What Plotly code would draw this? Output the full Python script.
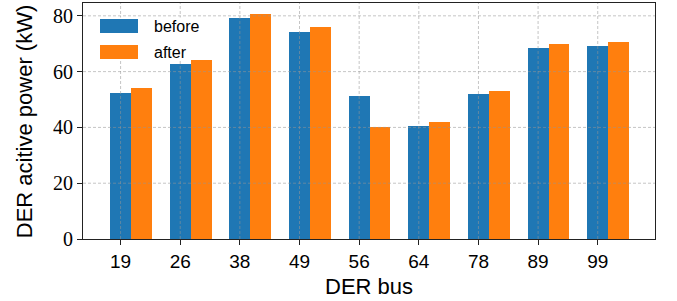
import plotly.graph_objects as go

buses = ["19", "26", "38", "49", "56", "64", "78", "89", "99"]
before = [52.4, 62.8, 79.3, 74.3, 51.4, 40.6, 52.1, 68.5, 69.2]
after = [54.2, 64.2, 80.7, 76.1, 40.0, 42.1, 53.1, 69.9, 70.6]
y_ticks = [0, 20, 40, 60, 80]
series_names = ["before", "after"]

BLUE = "#1f77b4"
ORANGE = "#ff7f0e"
idx = list(range(len(buses)))
W = 0.35

fig = go.Figure()
fig.add_trace(go.Bar(x=idx, y=before, width=W, offset=-W / 2, marker=dict(color=BLUE, line=dict(width=0)),
                     name=series_names[0], showlegend=False))
fig.add_trace(go.Bar(x=idx, y=after, width=W, offset=W / 2, marker=dict(color=ORANGE, line=dict(width=0)),
                     name=series_names[1], showlegend=False))

# plot area geometry in pixels
L, R, T, B = 83, 655, 3, 239.5
PW, PH = R - L, B - T


def px(x):
    return (x - L) / PW


def py(y):
    return (B - y) / PH


grid = dict(color="rgba(150,150,150,0.55)", width=1, dash="3px,2px")
shapes = []
for i in idx:
    shapes.append(dict(type="line", xref="x", yref="paper", x0=i, x1=i, y0=0, y1=1, line=grid, layer="above"))
for v in y_ticks[1:]:
    shapes.append(dict(type="line", xref="paper", yref="y", x0=0, x1=1, y0=v, y1=v, line=grid, layer="above"))

# legend box and patches
shapes.append(dict(type="rect", xref="paper", yref="paper", x0=px(93), x1=px(212), y0=py(59.5), y1=py(17.5),
                   fillcolor="white", line=dict(width=0), layer="above"))
shapes.append(dict(type="rect", xref="paper", yref="paper", x0=px(100), x1=px(138), y0=py(33), y1=py(19),
                   fillcolor=BLUE, line=dict(width=0), layer="above"))
shapes.append(dict(type="rect", xref="paper", yref="paper", x0=px(100), x1=px(138), y0=py(59), y1=py(45),
                   fillcolor=ORANGE, line=dict(width=0), layer="above"))

sans = "Liberation Sans"
serif = "Liberation Serif"
annotations = [
    dict(text=series_names[0], xref="paper", yref="paper", x=px(152), y=py(27), xanchor="left", yanchor="middle",
         showarrow=False, font=dict(family=sans, size=16, color="black")),
    dict(text=series_names[1], xref="paper", yref="paper", x=px(152), y=py(52.5), xanchor="left", yanchor="middle",
         showarrow=False, font=dict(family=sans, size=16, color="black")),
    dict(text="DER bus", xref="paper", yref="paper", x=0.5, y=py(287), xanchor="center", yanchor="middle",
         showarrow=False, font=dict(family=sans, size=22, color="black")),
    dict(text="DER acitive power (kW)", xref="paper", yref="paper", x=px(24), y=py(122.5), xanchor="center",
         yanchor="middle", textangle=-90, showarrow=False, font=dict(family=sans, size=22, color="black")),
]

fig.update_layout(
    width=677, height=301,
    margin=dict(l=L, r=677 - R, t=T, b=301 - B),
    paper_bgcolor="white", plot_bgcolor="white",
    barmode="overlay", bargap=0,
    shapes=shapes, annotations=annotations,
    showlegend=False,
)
fig.update_xaxes(
    range=[-0.63, 8.96], tickmode="array", tickvals=idx, ticktext=buses,
    showgrid=False, zeroline=False, showline=True, mirror=True, linecolor="#222", linewidth=1,
    ticks="outside", ticklen=5, tickcolor="#222", tickwidth=1,
    tickfont=dict(family=sans, size=19, color="black"),
)
fig.update_yaxes(
    range=[0, 84.6], tickmode="array", tickvals=y_ticks, ticktext=[str(v) for v in y_ticks],
    showgrid=False, zeroline=False, showline=True, mirror=True, linecolor="#222", linewidth=1,
    ticks="outside", ticklen=5, tickcolor="#222", tickwidth=1,
    tickfont=dict(family=serif, size=20, color="black"),
)

fig.write_html("out.html", config={"displayModeBar": False},
               post_script="document.body.style.margin='0';document.body.style.padding='0';")
